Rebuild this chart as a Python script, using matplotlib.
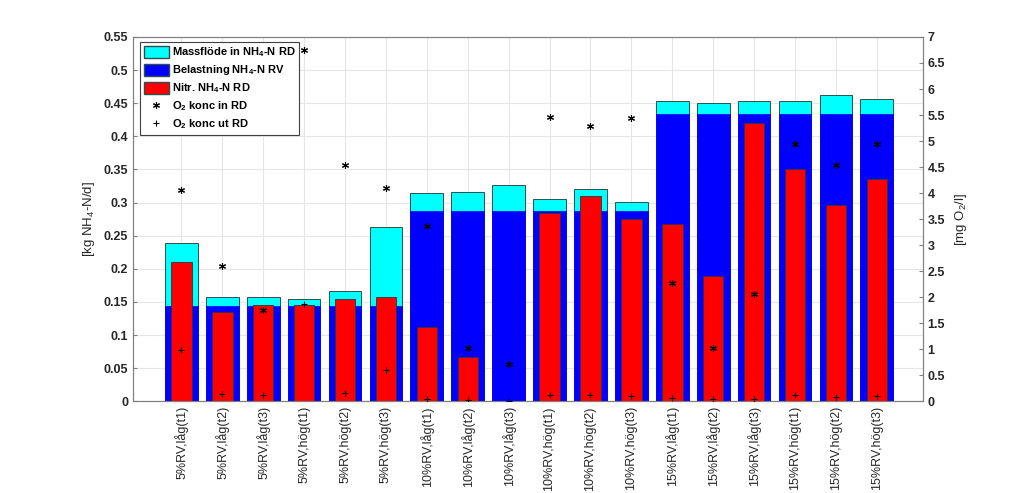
import matplotlib.pyplot as plt
import matplotlib.patches as patches
from matplotlib.lines import Line2D

plt.rcParams['mathtext.default'] = 'regular'
plt.rcParams['font.family'] = 'Liberation Sans'

# Data
labels = ["5%RV,låg(t1)", "5%RV,låg(t2)", "5%RV,låg(t3)",
          "5%RV,hög(t1)", "5%RV,hög(t2)", "5%RV,hög(t3)",
          "10%RV,låg(t1)", "10%RV,låg(t2)", "10%RV,låg(t3)",
          "10%RV,hög(t1)", "10%RV,hög(t2)", "10%RV,hög(t3)",
          "15%RV,låg(t1)", "15%RV,låg(t2)", "15%RV,låg(t3)",
          "15%RV,hög(t1)", "15%RV,hög(t2)", "15%RV,hög(t3)"]

massflode_in = [0.239, 0.158, 0.158, 0.154, 0.167, 0.263,
                0.315, 0.316, 0.327, 0.306, 0.321, 0.301,
                0.453, 0.451, 0.454, 0.454, 0.462, 0.457]
belastning = [0.144, 0.144, 0.144, 0.144, 0.144, 0.144,
              0.288, 0.288, 0.288, 0.288, 0.288, 0.288,
              0.433, 0.433, 0.433, 0.433, 0.433, 0.433]
nitr = [0.211, 0.135, 0.145, 0.146, 0.154, 0.158,
        0.112, 0.067, 0.0, 0.284, 0.310, 0.275,
        0.268, 0.189, 0.420, 0.351, 0.296, 0.336]
o2_in = [4.06, 2.60, 1.75, 6.75, 4.54, 4.09,
         3.37, 1.03, 0.71, 5.46, 5.29, 5.44,
         2.28, 1.03, 2.07, 4.94, 4.54, 4.94]
o2_ut = [0.99, 0.14, 0.12, 1.87, 0.16, 0.60,
         0.04, 0.02, 0.01, 0.12, 0.12, 0.10,
         0.06, 0.05, 0.05, 0.12, 0.08, 0.10]

x = list(range(1, len(labels) + 1))
txt = '#262626'

fig = plt.figure(figsize=(10.24, 4.93), dpi=100)
ax = fig.add_axes([0.130, 0.186, 0.771, 0.739])

ax.bar(x, massflode_in, width=0.8, color='#00FFFF', edgecolor='#2f4f4f', linewidth=0.7, zorder=2)
ax.bar(x, belastning, width=0.8, color='#0000FF', edgecolor='#0000FF', linewidth=0.5, zorder=3)
ax.bar(x, nitr, width=0.5, color='#FF0000', edgecolor='#333333', linewidth=0.6, zorder=4)

ax.set_xlim(-0.18, 19.12)
ax.set_ylim(0, 0.55)
ax.set_yticks([i * 0.05 for i in range(12)])
ax.set_yticklabels(['0', '0.05', '0.1', '0.15', '0.2', '0.25', '0.3', '0.35',
                    '0.4', '0.45', '0.5', '0.55'])
ax.set_xticks(x)
ax.set_xticklabels(labels, rotation=90, fontsize=9, color=txt)
for t in ax.get_yticklabels():
    t.set_fontweight('bold')
    t.set_fontsize(9)
    t.set_color(txt)
ax.tick_params(direction='in', length=3, color='#808080')
ax.grid(True, color='#e6e6e6', linewidth=0.8, zorder=0)
ax.set_axisbelow(True)
for s in ax.spines.values():
    s.set_color('#808080')
ax.set_ylabel('[kg NH$_4$-N/d]', fontsize=9.5, color=txt, labelpad=5)

ax2 = ax.twinx()
ax2.plot(x, o2_in, linestyle='none', marker=(6, 2, 0), markersize=5,
         color='black', markeredgewidth=0.8, zorder=5)
ax2.plot(x, o2_ut, linestyle='none', marker='+', markersize=5,
         color='black', markeredgewidth=0.8, zorder=5)
ax2.set_ylim(0, 7)
ax2.set_yticks([i * 0.5 for i in range(15)])
ax2.set_yticklabels(['0', '0.5', '1', '1.5', '2', '2.5', '3', '3.5', '4',
                     '4.5', '5', '5.5', '6', '6.5', '7'])
for t in ax2.get_yticklabels():
    t.set_fontweight('bold')
    t.set_fontsize(9)
    t.set_color(txt)
ax2.tick_params(direction='in', length=3, color='#808080')
for s in ax2.spines.values():
    s.set_color('#808080')
ax2.set_ylabel('[mg O$_2$/l]', fontsize=9.5, color=txt, labelpad=6)

handles = [
    patches.Patch(facecolor='#00FFFF', edgecolor='#2f4f4f', label='Massflöde in NH$_4$-N RD'),
    patches.Patch(facecolor='#0000FF', edgecolor='#2f4f4f', label='Belastning NH$_4$-N RV'),
    patches.Patch(facecolor='#FF0000', edgecolor='#2f4f4f', label='Nitr. NH$_4$-N RD'),
    Line2D([], [], linestyle='none', marker=(6, 2, 0), markersize=5, color='black',
           markeredgewidth=0.8, label='O$_2$ konc in RD'),
    Line2D([], [], linestyle='none', marker='+', markersize=5, color='black',
           markeredgewidth=0.8, label='O$_2$ konc ut RD'),
]
leg = ax2.legend(handles=handles, loc='upper left', bbox_to_anchor=(0.009, 0.986),
                 borderaxespad=0, fancybox=False, framealpha=1, edgecolor='#404040',
                 prop={'weight': 'bold', 'size': 8}, handlelength=2.3, handleheight=1.3,
                 handletextpad=0.25, labelspacing=0.38, borderpad=0.3)
leg.get_frame().set_linewidth(0.8)

fig.savefig('out.png', dpi=100)
